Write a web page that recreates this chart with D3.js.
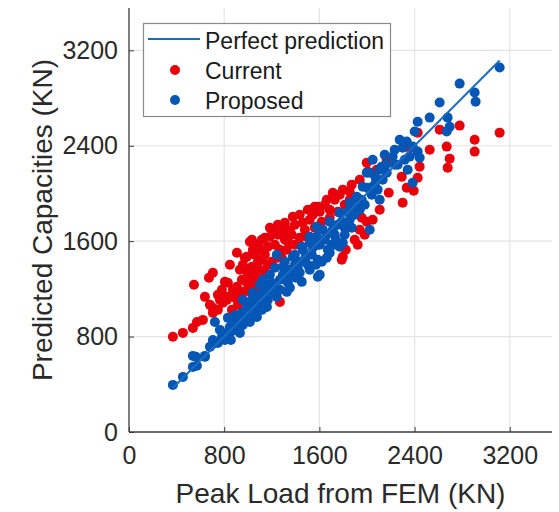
<!DOCTYPE html>
<html><head><meta charset="utf-8">
<script src="https://cdn.jsdelivr.net/npm/d3@7"></script>
<style>
html,body{margin:0;padding:0;background:#fff;}
svg{display:block;font-family:"Liberation Sans",Arial,sans-serif;}
</style></head>
<body>
<svg id="chart" width="559" height="512"></svg>
<script>
// ---- data (kN) ----
const xTicks = [0, 800, 1600, 2400, 3200];
const yTicks = [0, 800, 1600, 2400, 3200];
const axisMax = 3555;
const legendLabels = ["Perfect prediction", "Current", "Proposed"];
const perfectLine = [369, 3115];

const currentFEM = [369,453,537,571,621,705,747,705,789,823,873,907,991,546,638,672,705,848,907,991,999,1058,974,1016,1041,1083,1184,1184,1167,1310,1326,1335,1435,1461,1561,1033,1117,873,1419,1268,1377,1545,1587,1662,1713,1797,1855,1939,2006,2082,1956,1998,2048,1939,1922,1797,2107,1352,2611,2426,2359,2527,2443,2292,2426,1998,2166,2334,3115,2779,2905,2905,2670,2695,2678,2393,2300,2183,1788,932,949,1058,1100,1142,1226,1251,1268,1310,1368,1394,1478,1519,1603,1645,1729,1771,1142,1209,1251,1083,1016,932,781,747,1100,1167,1284,1503,1687,1872,1822,1897,1981,915,865,1083,806,957,1117,1033,831,
  823,890,957,1033,1066,1142,1200,1251,1326,1394,1435,1494,1561,1620,1687,1755,1813,1855,1293,1117,1058,974,764,680,1016,1075];
const currentPred = [798,831,873,923,940,999,1024,1041,1083,1133,1167,1217,1251,1234,1133,1293,1335,1402,1503,1469,1318,1385,1461,1595,1528,1570,1713,1637,1553,1755,1679,1595,1822,1755,1889,1385,1444,1192,1301,1091,1805,1822,1889,1948,2006,2032,2015,2115,2183,2199,1797,1763,1780,1696,1570,1469,1864,1696,2535,2510,2384,2367,2225,2141,2132,2258,2283,2048,2510,2569,2451,2351,2393,2292,2216,2023,1922,2006,1444,1360,1276,1318,1360,1486,1570,1654,1528,1612,1654,1738,1696,1780,1847,1906,1948,1990,1629,1696,1738,1427,1209,1150,1192,1150,1276,1402,1461,1864,1864,2074,1528,1612,1654,1066,1024,1192,1259,1402,1528,1612,1251,
  1108,1125,1175,1259,1293,1343,1427,1461,1528,1570,1629,1637,1713,1763,1797,1847,1906,1948,1679,1612,1486,1360,1108,1066,1175,1125];

const proposedFEM = [369,453,537,562,638,680,705,747,722,823,848,907,949,991,1041,932,781,873,974,1016,1075,1159,1242,1326,1452,1435,1587,1519,1587,1687,1771,1242,1293,1377,1452,1519,1578,1125,1041,991,1461,1519,1578,1629,1687,1771,1855,1914,1964,1998,2048,2107,2132,2107,2023,1797,1704,2611,2527,2426,2401,2334,2300,2384,2426,2443,2359,2216,2023,2166,2342,2384,3115,2779,2905,2913,2678,2695,2670,1100,1142,1184,1200,1268,1310,1352,1394,1335,1167,1083,1117,1184,1226,1310,1394,1478,1536,1603,1645,1729,1813,1855,1897,1939,1981,2040,2065,1813,1729,1671,1435,1352,1402,1503,1620,1662,1755,1839,1922,2006,2090,2158,2233,2275,2258,890,806,764,957,999,1058,898,957,1117,1033,2124,1603,537,571,638,705,848,873,
  932,1016,1083,1142,1200,1268,1318,1368,1419,1486,1545,1587,1713,1788,1872,1956,2023,2073,831,856,1100,1167,1226,1293,1570,1662,1738,1872,2233,2317,2149];
const proposedPred = [395,462,546,630,630,714,772,747,923,831,881,923,999,1041,1083,831,798,940,957,923,965,1049,1133,1175,1259,1335,1301,1360,1444,1503,1553,1486,1385,1469,1553,1637,1721,1276,1167,1083,1528,1587,1637,1696,1763,1839,1922,1973,2057,2174,2283,2199,2115,1948,1696,1587,1570,2762,2636,2602,2519,2435,2384,2393,2351,2300,2309,2309,2174,2174,2199,2090,3056,2921,2846,2770,2636,2560,2519,1150,1192,1234,1175,1276,1318,1360,1402,1251,1108,1066,1024,1318,1377,1427,1486,1444,1486,1570,1612,1654,1713,1780,1822,1864,1906,1990,2074,1654,1570,1528,1427,1209,1293,1402,1427,1654,1738,1847,1906,2048,2032,2241,2367,2451,2241,856,772,856,898,982,1024,982,1108,1125,1108,2225,1318,638,555,638,739,831,915,
  898,1007,1125,1108,1251,1192,1293,1318,1377,1486,1545,1570,1696,1763,1847,1948,2032,2132,957,772,1234,1192,1209,1318,1402,1461,1612,1713,2241,2283,2325];

// ---- layout ----
const svg = d3.select("#chart");
const m = {left:129, right:552, top:8, bottom:432};
const x = d3.scaleLinear().domain([0, axisMax]).range([m.left, m.right]);
const y = d3.scaleLinear().domain([0, axisMax]).range([m.bottom, m.top]);

const RED = "#e8000b", BLUE = "#0656b5", LINE = "#1a6cc0";
const R = 5;

// grid
const g = svg.append("g");
g.selectAll(".gx").data(xTicks.filter(d=>d>0)).enter().append("line")
  .attr("x1", d=>x(d)).attr("x2", d=>x(d)).attr("y1", m.bottom).attr("y2", m.top)
  .attr("stroke", "#e4e4e4").attr("stroke-width", 1.2);
g.selectAll(".gy").data(yTicks.filter(d=>d>0)).enter().append("line")
  .attr("y1", d=>y(d)).attr("y2", d=>y(d)).attr("x1", m.left).attr("x2", m.right)
  .attr("stroke", "#e4e4e4").attr("stroke-width", 1.2);

// points
const cur = currentFEM.map((v,i)=>[v, currentPred[i]]);
const pro = proposedFEM.map((v,i)=>[v, proposedPred[i]]);
svg.append("g").selectAll("circle").data(cur).enter().append("circle")
  .attr("cx", d=>x(d[0])).attr("cy", d=>y(d[1])).attr("r", R).attr("fill", RED);
svg.append("g").selectAll("circle").data(pro).enter().append("circle")
  .attr("cx", d=>x(d[0])).attr("cy", d=>y(d[1])).attr("r", R).attr("fill", BLUE);

// perfect line
svg.append("line")
  .attr("x1", x(perfectLine[0])).attr("y1", y(perfectLine[0]))
  .attr("x2", x(perfectLine[1])).attr("y2", y(perfectLine[1]))
  .attr("stroke", LINE).attr("stroke-width", 2);

// axes
const axisColor = "#3a3a3a";
const xAxis = d3.axisBottom(x).tickValues(xTicks).tickSize(-5).tickPadding(14).tickFormat(d3.format("d"));
const yAxis = d3.axisLeft(y).tickValues(yTicks).tickSize(-5).tickPadding(11).tickFormat(d3.format("d"));
const gx = svg.append("g").attr("transform", `translate(0,${m.bottom})`).call(xAxis);
const gy = svg.append("g").attr("transform", `translate(${m.left},0)`).call(yAxis);
[gx, gy].forEach(a=>{
  a.select(".domain").attr("stroke", axisColor).attr("stroke-width", 1.3)
   .attr("d", a===gx ? `M${m.left},0H${m.right}` : `M0,${m.bottom}V${m.top}`);
  a.selectAll(".tick line").attr("stroke", axisColor);
  a.selectAll(".tick text").attr("fill", "#2a2a2a").attr("font-size", 25)
   .attr("font-family", "Liberation Sans, Arial, sans-serif");
});
gx.selectAll(".tick text").attr("dy", "0.71em");

// titles
svg.append("text").attr("x", (m.left+m.right)/2).attr("y", 503)
  .attr("text-anchor", "middle").attr("font-size", 28).attr("fill", "#2a2a2a")
  .text("Peak Load from FEM (KN)");
svg.append("text").attr("transform", `translate(52,${(m.top+m.bottom)/2}) rotate(-90)`)
  .attr("text-anchor", "middle").attr("font-size", 28).attr("fill", "#2a2a2a")
  .text("Predicted Capacities (KN)");

// legend
const lg = svg.append("g");
lg.append("rect").attr("x", 143.5).attr("y", 23.5).attr("width", 247).attr("height", 93)
  .attr("fill", "#fff").attr("stroke", "#8a8a8a").attr("stroke-width", 1.2);
lg.append("line").attr("x1", 148).attr("x2", 200).attr("y1", 39).attr("y2", 39)
  .attr("stroke", LINE).attr("stroke-width", 2);
lg.append("circle").attr("cx", 175).attr("cy", 70).attr("r", R).attr("fill", RED);
lg.append("circle").attr("cx", 175).attr("cy", 100).attr("r", R).attr("fill", BLUE);
const ly = [41, 71, 101];
lg.selectAll("text.l").data(legendLabels).enter().append("text")
  .attr("x", 205).attr("y", (d,i)=>ly[i]).attr("dy", "0.35em")
  .attr("font-size", 23).attr("fill", "#1a1a1a").text(d=>d);
</script>
</body></html>
